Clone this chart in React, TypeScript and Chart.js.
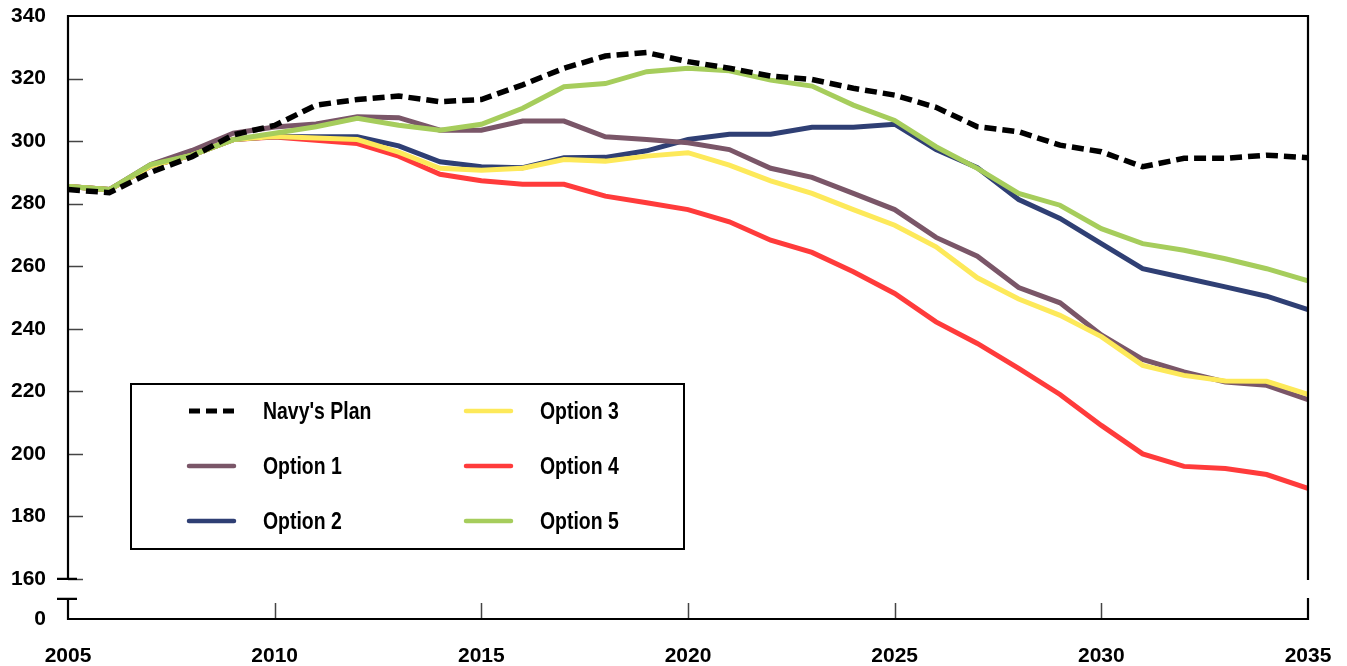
import React, { useEffect, useRef } from "react";
import { Chart, registerables } from "chart.js";

Chart.register(...registerables);

const years = [
  2005, 2006, 2007, 2008, 2009, 2010, 2011, 2012, 2013, 2014, 2015, 2016, 2017, 2018, 2019, 2020,
  2021, 2022, 2023, 2024, 2025, 2026, 2027, 2028, 2029, 2030, 2031, 2032, 2033, 2034, 2035,
];

const navyPlan = [
  284.5, 283.5, 290, 295, 302, 305, 311.5, 313.3, 314.4, 312.6,
  313.3, 318, 323.3, 327.2, 328.3, 325.4, 323.3, 320.8, 319.7, 316.9,
  314.7, 310.8, 304.6, 303, 298.7, 296.6, 291.8, 294.5, 294.5, 295.5, 294.7,
];
const option1 = [
  285.5, 284.5, 292.5, 297, 302.5, 304.5, 305.5, 307.8, 307.5, 303.5,
  303.5, 306.4, 306.4, 301.4, 300.5, 299.5, 297.3, 291.3, 288.4, 283.3,
  278.1, 269.2, 263.2, 253.2, 248.3, 238, 230.2, 226.2, 223, 221.9, 217.3,
];
const option2 = [
  285.5, 284.5, 292, 295.5, 300.5, 301.5, 301.4, 301.4, 298.5, 293.4,
  291.8, 291.5, 294.7, 294.8, 296.9, 300.5, 302.2, 302.2, 304.4, 304.4,
  305.4, 297.3, 291.5, 281.3, 275.3, 267.2, 259.2, 256.3, 253.4, 250.4, 246.1,
];
const option3 = [
  285.5, 284.5, 292, 295.5, 300.5, 301.5, 301, 300.5, 296.5, 291.3,
  290.7, 291.3, 294.1, 293.6, 295.2, 296.3, 292.3, 287.3, 283.3, 278.1,
  273.1, 266.2, 256.3, 249.5, 244.3, 237.5, 228.3, 225.1, 223.3, 223.2, 219,
];
const option4 = [
  285.5, 284.5, 292, 295.5, 300.5, 301.3, 300.3, 299.2, 295.2, 289.4,
  287.3, 286.2, 286.2, 282.4, 280.3, 278.1, 274.2, 268.3, 264.4, 258.2,
  251.3, 242.2, 235.3, 227.3, 219, 209.1, 200, 196, 195.3, 193.4, 189,
];
const option5 = [
  285.5, 284.5, 292.5, 295.5, 300.5, 302.5, 304.6, 307.3, 305.1, 303.5,
  305.4, 310.5, 317.4, 318.4, 322.2, 323.3, 322.5, 319.5, 317.6, 311.5,
  306.6, 298.2, 291.3, 283.3, 279.5, 272, 267.2, 265.1, 262.4, 259.2, 255.3,
];

const yTickValues = [160, 180, 200, 220, 240, 260, 280, 300, 320, 340];
const yZeroValue = 147.2; // position of the "0" label below the axis break
const yZeroLabel = "0";
const xTickValues = [2005, 2010, 2015, 2020, 2025, 2030, 2035];

const seriesLabels = ["Navy's Plan", "Option 1", "Option 2", "Option 3", "Option 4", "Option 5"];
const seriesColors = ["#000000", "#7a5668", "#2f3f74", "#fde95a", "#ff3b3b", "#a6cd5c"];
const seriesValues = [navyPlan, option1, option2, option3, option4, option5];
const drawOrder = [0, 3, 4, 2, 5, 1];

const LABEL_FONT = { family: '"Liberation Sans", Arial, sans-serif', size: 21, weight: "bold" as const };
const LEGEND_FONT = 'bold 24px "Liberation Sans", Arial, sans-serif';
const LEGEND_SQUEEZE = 0.81;

const framePlugin = {
  id: "frame",
  afterDatasetsDraw(chart: any) {
    const { ctx, chartArea } = chart;
    const { left, right, top, bottom } = chartArea;
    const ys = chart.scales.y;
    const xs = chart.scales.x;
    const brTop = ys.getPixelForValue(160);
    const brBot = brTop + 20;
    ctx.save();
    ctx.strokeStyle = "#444";
    ctx.lineWidth = 1.5;
    ctx.beginPath();
    for (const v of yTickValues) {
      if (v >= 340) continue;
      const py = Math.round(ys.getPixelForValue(v)) + 0.5;
      ctx.moveTo(left, py);
      ctx.lineTo(left + 15, py);
    }
    for (const yr of xTickValues) {
      if (yr === 2005 || yr === 2035) continue;
      const px = Math.round(xs.getPixelForValue(yr)) + 0.5;
      ctx.moveTo(px, bottom);
      ctx.lineTo(px, bottom - 16);
    }
    ctx.stroke();
    ctx.strokeStyle = "#000";
    ctx.lineWidth = 2.2;
    ctx.lineCap = "butt";
    ctx.beginPath();
    ctx.moveTo(left, brTop);
    ctx.lineTo(left, top);
    ctx.lineTo(right, top);
    ctx.lineTo(right, brTop + 1);
    ctx.moveTo(left, brBot);
    ctx.lineTo(left, bottom);
    ctx.lineTo(right, bottom);
    ctx.lineTo(right, brBot - 1);
    ctx.moveTo(left - 11, brTop);
    ctx.lineTo(left + 9, brTop);
    ctx.moveTo(left - 11, brBot);
    ctx.lineTo(left + 9, brBot);
    ctx.stroke();
    ctx.restore();
  },
};

const legendPlugin = {
  id: "boxLegend",
  afterDraw(chart: any) {
    const { ctx } = chart;
    const bx = 131, by = 384, bw = 553, bh = 165;
    ctx.save();
    ctx.fillStyle = "#fff";
    ctx.fillRect(bx, by, bw, bh);
    ctx.strokeStyle = "#000";
    ctx.lineWidth = 2;
    ctx.strokeRect(bx, by, bw, bh);
    const rows = [411, 466, 521];
    const cols = [
      { sx: 189, tx: 263 },
      { sx: 466, tx: 540 },
    ];
    chart.data.datasets.forEach((ds: any, i: number) => {
      const col = cols[Math.floor(i / 3)];
      const ry = rows[i % 3];
      ctx.strokeStyle = ds.borderColor;
      if (ds.borderDash && ds.borderDash.length) {
        ctx.lineWidth = 5;
        ctx.lineCap = "butt";
        ctx.setLineDash([11, 6]);
      } else {
        ctx.lineWidth = 4.5;
        ctx.lineCap = "round";
        ctx.setLineDash([]);
      }
      ctx.beginPath();
      ctx.moveTo(col.sx, ry);
      ctx.lineTo(col.sx + 45, ry);
      ctx.stroke();
      ctx.setLineDash([]);
      ctx.save();
      ctx.translate(col.tx, ry + 1);
      ctx.scale(LEGEND_SQUEEZE, 1);
      ctx.fillStyle = "#000";
      ctx.font = LEGEND_FONT;
      ctx.textAlign = "left";
      ctx.textBaseline = "middle";
      ctx.fillText(ds.label, 0, 0);
      ctx.restore();
    });
    ctx.restore();
  },
};

const zeroPadding = (s: any) => {
  s.paddingTop = 0;
  s.paddingBottom = 0;
  s.paddingLeft = 0;
  s.paddingRight = 0;
};

export default function App() {
  const canvasRef = useRef<HTMLCanvasElement | null>(null);

  useEffect(() => {
    if (!canvasRef.current) return;
    const datasets = seriesLabels.map((label, i) => ({
      label,
      data: years.map((yr, k) => ({ x: yr, y: seriesValues[i][k] })),
      borderColor: seriesColors[i],
      backgroundColor: seriesColors[i],
      borderWidth: i === 0 ? 5.5 : 5,
      borderDash: i === 0 ? [12, 6] : [],
      pointRadius: 0,
      tension: 0,
      fill: false,
      order: drawOrder[i],
    }));
    const chart = new Chart(canvasRef.current, {
      type: "line",
      data: { datasets },
      plugins: [framePlugin, legendPlugin],
      options: {
        animation: false,
        responsive: true,
        maintainAspectRatio: false,
        layout: { padding: { top: 16, right: 39, left: 0, bottom: 0 }, autoPadding: false },
        plugins: { legend: { display: false }, tooltip: { enabled: false } },
        scales: {
          x: {
            type: "linear",
            min: 2005,
            max: 2035,
            grid: { display: false, drawTicks: false },
            border: { display: false },
            afterFit: (s: any) => {
              s.height = 47;
              zeroPadding(s);
            },
            afterBuildTicks: (s: any) => {
              s.ticks = xTickValues.map((v) => ({ value: v }));
            },
            ticks: {
              autoSkip: false,
              maxRotation: 0,
              padding: 25,
              color: "#000",
              font: LABEL_FONT,
              callback: (v: any) => String(v),
            },
          },
          y: {
            type: "linear",
            min: yZeroValue,
            max: 340,
            grid: { display: false, drawTicks: false },
            border: { display: false },
            afterFit: (s: any) => {
              s.width = 68;
              zeroPadding(s);
            },
            afterBuildTicks: (s: any) => {
              s.ticks = [yZeroValue, ...yTickValues].map((v) => ({ value: v }));
            },
            ticks: {
              autoSkip: false,
              padding: 22,
              color: "#000",
              font: LABEL_FONT,
              callback: (v: any) => (v < 150 ? yZeroLabel : String(v)),
            },
          },
        },
      },
    });
    return () => chart.destroy();
  }, []);

  return (
    <div style={{ position: "fixed", left: 0, top: 0, width: 1347, height: 666, background: "#fff" }}>
      <canvas ref={canvasRef} />
    </div>
  );
}
